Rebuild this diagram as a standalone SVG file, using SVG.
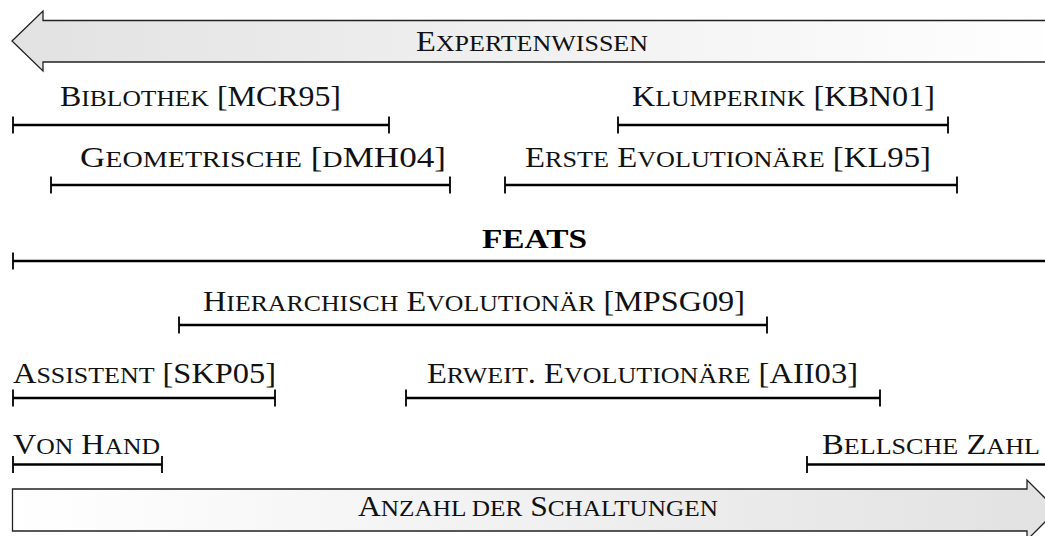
<svg xmlns="http://www.w3.org/2000/svg" width="1045" height="536" viewBox="0 0 1045 536">
  <defs>
    <linearGradient id="gradLeft" x1="0" y1="0" x2="1" y2="0">
      <stop offset="0" stop-color="#e2e2e2"/>
      <stop offset="1" stop-color="#ffffff"/>
    </linearGradient>
    <linearGradient id="gradRight" x1="0" y1="0" x2="1" y2="0">
      <stop offset="0" stop-color="#ffffff"/>
      <stop offset="1" stop-color="#e2e2e2"/>
    </linearGradient>
  </defs>
  <style>
    .arrow { stroke: #222; stroke-width: 1.3; stroke-linejoin: miter; }
    .span { stroke: #000; stroke-width: 2.4; fill: none; }
    .tick { stroke: #000; stroke-width: 1.8; }
    .lbl { font-family: "Liberation Serif", "Times New Roman", serif; font-size: 30px; fill: #111; }
    .sc { font-size: 24px; }
    .bold { font-family: "Liberation Serif", "Times New Roman", serif; font-size: 27px; font-weight: bold; fill: #000; }
  </style>

  <!-- axis arrows -->
  <g id="expertenwissen">
    <path class="arrow" fill="url(#gradLeft)" d="M12,41 L43,11 L43,20.5 L1060,20.5 L1060,62 L43,62 L43,71 Z"/>
    <text class="lbl" x="416" y="51" textLength="232" lengthAdjust="spacingAndGlyphs">E<tspan class="sc">XPERTENWISSEN</tspan></text>
  </g>
  <g id="anzahl">
    <path class="arrow" fill="url(#gradRight)" d="M12.5,489 L1027,489 L1027,480 L1057,510 L1027,540 L1027,531 L12.5,531 Z"/>
    <text class="lbl" x="358" y="516" textLength="360" lengthAdjust="spacingAndGlyphs">A<tspan class="sc">NZAHL DER</tspan> S<tspan class="sc">CHALTUNGEN</tspan></text>
  </g>

  <!-- interval bars -->
  <g id="connectors">
    <path class="span" d="M13,125 H389 M618,125 H948 M51,185 H450 M505,185 H957 M13,261 H1050 M179,325 H767 M13,398 H275 M406,398 H880 M13,464.5 H162 M807,464.5 H1050"/>
    <path class="tick" d="M13,116.5 V133.5 M389,116.5 V133.5 M618,116.5 V133.5 M948,116.5 V133.5 M51,176.5 V193.5 M450,176.5 V193.5 M505,176.5 V193.5 M957,176.5 V193.5 M13,252.5 V269.5 M179,316.5 V333.5 M767,316.5 V333.5 M13,389.5 V406.5 M275,389.5 V406.5 M406,389.5 V406.5 M880,389.5 V406.5 M13,456 V473 M162,456 V473 M807,456 V473"/>
  </g>

  <g id="biblothek">
    <text class="lbl" x="60" y="106" textLength="281" lengthAdjust="spacingAndGlyphs">B<tspan class="sc">IBLOTHEK</tspan> [MCR95]</text>
  </g>
  <g id="klumperink">
    <text class="lbl" x="632" y="106" textLength="303" lengthAdjust="spacingAndGlyphs">K<tspan class="sc">LUMPERINK</tspan> [KBN01]</text>
  </g>
  <g id="geometrische">
    <text class="lbl" x="80" y="167" textLength="366" lengthAdjust="spacingAndGlyphs">G<tspan class="sc">EOMETRISCHE</tspan> [<tspan class="sc">D</tspan>MH04]</text>
  </g>
  <g id="erste-evolutionaere">
    <text class="lbl" x="525" y="167" textLength="406" lengthAdjust="spacingAndGlyphs">E<tspan class="sc">RSTE</tspan> E<tspan class="sc">VOLUTIONÄRE</tspan> [KL95]</text>
  </g>
  <g id="feats">
    <text class="bold" x="482" y="248" textLength="105" lengthAdjust="spacingAndGlyphs">FEATS</text>
  </g>
  <g id="hierarchisch">
    <text class="lbl" x="203" y="311" textLength="542" lengthAdjust="spacingAndGlyphs">H<tspan class="sc">IERARCHISCH</tspan> E<tspan class="sc">VOLUTIONÄR</tspan> [MPSG09]</text>
  </g>
  <g id="assistent">
    <text class="lbl" x="13" y="383" textLength="263" lengthAdjust="spacingAndGlyphs">A<tspan class="sc">SSISTENT</tspan> [SKP05]</text>
  </g>
  <g id="erweitert">
    <text class="lbl" x="427" y="383" textLength="431" lengthAdjust="spacingAndGlyphs">E<tspan class="sc">RWEIT</tspan>. E<tspan class="sc">VOLUTIONÄRE</tspan> [AII03]</text>
  </g>
  <g id="von-hand">
    <text class="lbl" x="13" y="454" textLength="147" lengthAdjust="spacingAndGlyphs">V<tspan class="sc">ON</tspan> H<tspan class="sc">AND</tspan></text>
  </g>
  <g id="bellsche-zahl">
    <text class="lbl" x="822" y="454" textLength="218" lengthAdjust="spacingAndGlyphs">B<tspan class="sc">ELLSCHE</tspan> Z<tspan class="sc">AHL</tspan></text>
  </g>
</svg>
